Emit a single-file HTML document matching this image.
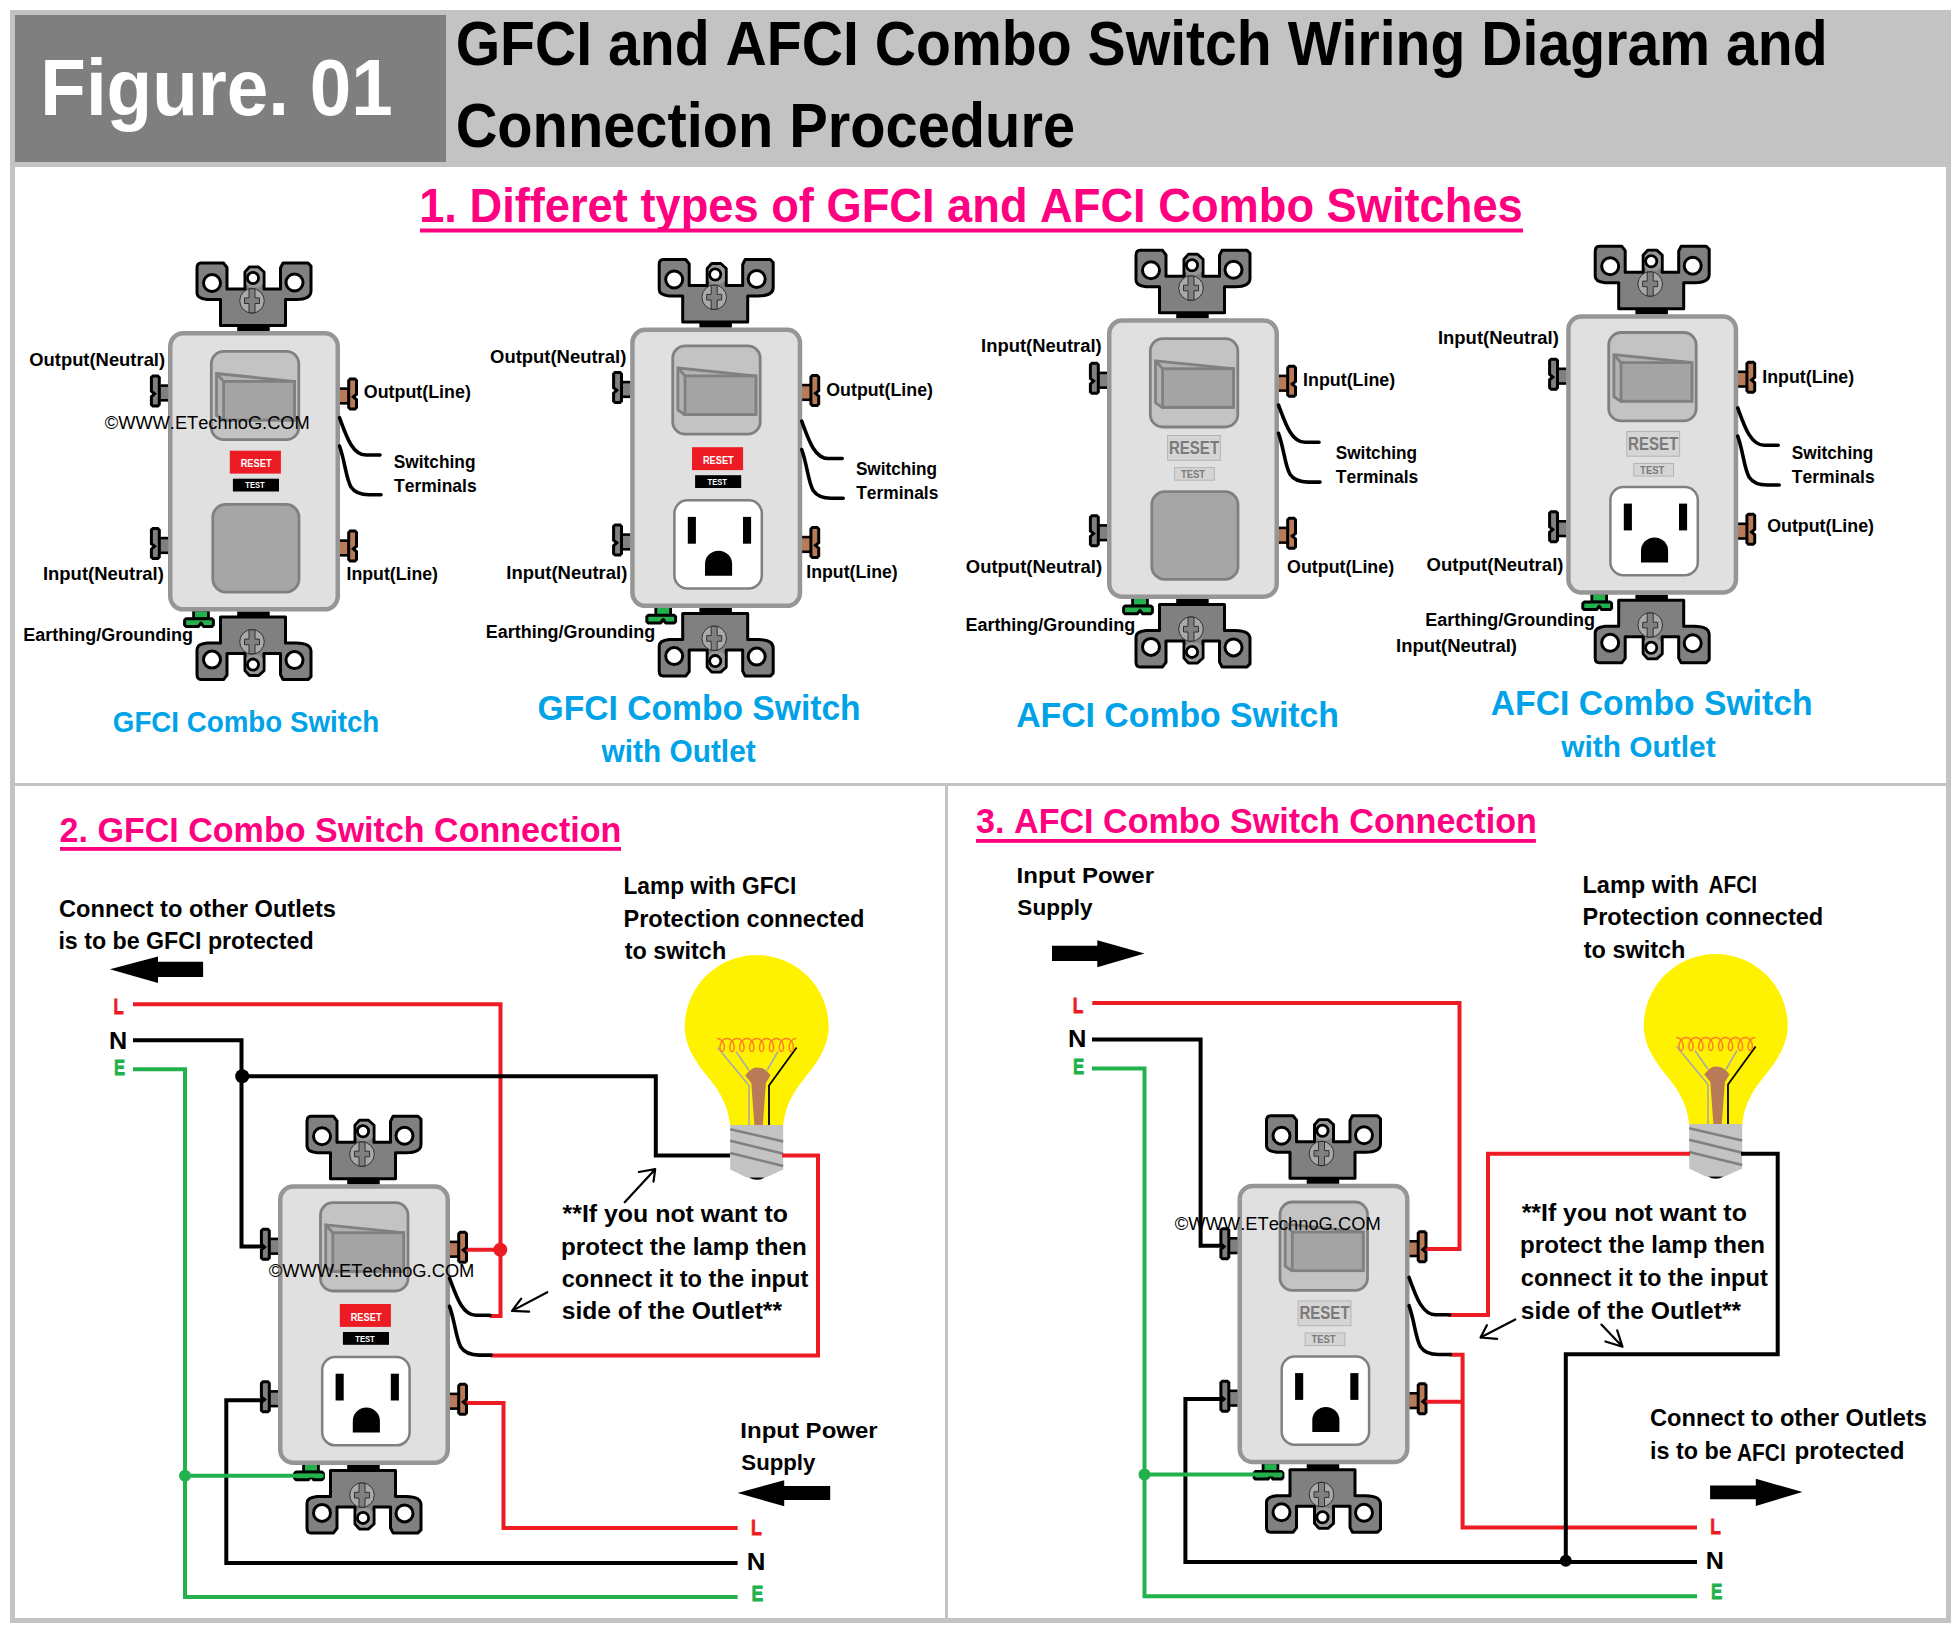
<!DOCTYPE html><html><head><meta charset="utf-8"><style>html,body{margin:0;padding:0;background:#fff;}svg{display:block;font-family:"Liberation Sans",sans-serif;font-kerning:none;}</style></head><body>
<svg width="1957" height="1629" viewBox="0 0 1957 1629">
<defs>
<g id="swRB"><g transform="translate(86,0)"><rect x="-16.8" y="-5" width="32.5" height="5.2" fill="#000"/><path d="M-57,-63 Q-57,-68 -53,-68 L-30.5,-68 L-27,-63.5 L-27,-42 L-9,-42 L-9,-59 L-4.5,-64 L4.5,-64 L10,-59 L10,-42 L26.5,-42 L26.5,-63 L29,-68 L54,-68 L57,-65 L57,-40 Q57,-31.5 42,-31.5 L31.5,-31.5 L31.5,-5.5 L-33.5,-5.5 L-33.5,-31.5 L-47,-31.5 Q-57,-32.5 -57,-38 Z" fill="#808080" stroke="#000" stroke-width="3" stroke-linejoin="round"/><path d="M-7.5,-46.5 L-7.5,-58.5 L-3.8,-62.5 L3.8,-62.5 L8.5,-58.5 L8.5,-46.5 L4.5,-43.5 L-3.5,-43.5 Z" fill="#989898" stroke="none"/><circle cx="-42" cy="-48" r="8.5" fill="#fff" stroke="#000" stroke-width="3"/><circle cx="40.5" cy="-48.5" r="8.5" fill="#fff" stroke="#000" stroke-width="3"/><circle cx="-1" cy="-53" r="5.6" fill="#fff" stroke="#000" stroke-width="2.8"/><circle cx="-2" cy="-30.2" r="12.3" fill="#a9a9a9" stroke="#303030" stroke-width="1"/><path d="M-5,-42.2 h6 v9.1 h4.5 v5.6 h-4.5 v9.3 h-6 v-9.3 h-4.5 v-5.6 h4.5 Z" fill="#808080" stroke="#303030" stroke-width="1"/></g><g transform="translate(86,280.6) scale(1,-1)"><rect x="-16.8" y="-5" width="32.5" height="5.2" fill="#000"/><path d="M-57,-63 Q-57,-68 -53,-68 L-30.5,-68 L-27,-63.5 L-27,-42 L-9,-42 L-9,-59 L-4.5,-64 L4.5,-64 L10,-59 L10,-42 L26.5,-42 L26.5,-63 L29,-68 L54,-68 L57,-65 L57,-40 Q57,-31.5 42,-31.5 L31.5,-31.5 L31.5,-5.5 L-33.5,-5.5 L-33.5,-31.5 L-47,-31.5 Q-57,-32.5 -57,-38 Z" fill="#808080" stroke="#000" stroke-width="3" stroke-linejoin="round"/><path d="M-7.5,-46.5 L-7.5,-58.5 L-3.8,-62.5 L3.8,-62.5 L8.5,-58.5 L8.5,-46.5 L4.5,-43.5 L-3.5,-43.5 Z" fill="#989898" stroke="none"/><circle cx="-42" cy="-48" r="8.5" fill="#fff" stroke="#000" stroke-width="3"/><circle cx="40.5" cy="-48.5" r="8.5" fill="#fff" stroke="#000" stroke-width="3"/><circle cx="-1" cy="-53" r="5.6" fill="#fff" stroke="#000" stroke-width="2.8"/><circle cx="-2" cy="-30.2" r="12.3" fill="#a9a9a9" stroke="#303030" stroke-width="1"/><path d="M-5,-42.2 h6 v9.1 h4.5 v5.6 h-4.5 v9.3 h-6 v-9.3 h-4.5 v-5.6 h4.5 Z" fill="#808080" stroke="#303030" stroke-width="1"/></g><rect x="-7.8" y="53.3" width="8" height="17.3" fill="#000"/><rect x="-7.8" y="55.9" width="8" height="12.1" fill="#808080"/><path d="M-15,45.0 L-10.2,45.0 L-8.7,46.5 L-8.7,73.5 L-10.2,75.0 L-15,75.0 L-16.6,73.5 L-16.6,65.6 L-13.4,62.8 L-16.6,60.2 L-16.6,46.5 Z" fill="#808080" stroke="#000" stroke-width="3" stroke-linejoin="miter" stroke-miterlimit="3"/><rect x="-7.8" y="205.8" width="8" height="17.3" fill="#000"/><rect x="-7.8" y="208.4" width="8" height="12.1" fill="#808080"/><path d="M-15,197.5 L-10.2,197.5 L-8.7,199.0 L-8.7,226.0 L-10.2,227.5 L-15,227.5 L-16.6,226.0 L-16.6,218.1 L-13.4,215.3 L-16.6,212.7 L-16.6,199.0 Z" fill="#808080" stroke="#000" stroke-width="3" stroke-linejoin="miter" stroke-miterlimit="3"/><rect x="171.8" y="56.3" width="8" height="17.3" fill="#000"/><rect x="171.8" y="58.9" width="8" height="12.1" fill="#b97a57"/><path d="M182.2,48.0 L187,48.0 L188.5,49.5 L188.5,63.2 L185.3,65.8 L188.5,68.6 L188.5,76.5 L187,78.0 L182.2,78.0 L180.7,76.5 L180.7,49.5 Z" fill="#b97a57" stroke="#000" stroke-width="3" stroke-linejoin="miter" stroke-miterlimit="3"/><rect x="171.8" y="208.3" width="8" height="17.3" fill="#000"/><rect x="171.8" y="210.9" width="8" height="12.1" fill="#b97a57"/><path d="M182.2,200.0 L187,200.0 L188.5,201.5 L188.5,215.2 L185.3,217.8 L188.5,220.6 L188.5,228.5 L187,230.0 L182.2,230.0 L180.7,228.5 L180.7,201.5 Z" fill="#b97a57" stroke="#000" stroke-width="3" stroke-linejoin="miter" stroke-miterlimit="3"/><rect x="24.2" y="280" width="17.6" height="8" fill="#000"/><rect x="27" y="280.5" width="12" height="6" fill="#22b14c"/><path d="M18,287.7 L44,287.7 L45.4,289.2 L45.4,294 L44,295.4 L35.5,295.4 L33,292 L30.5,295.4 L18,295.4 L16.6,294 L16.6,289.2 Z" fill="#22b14c" stroke="#000" stroke-width="3" stroke-linejoin="round"/><rect x="2.25" y="2.25" width="167.5" height="276.1" rx="13" fill="#e0e0e0" stroke="#969696" stroke-width="4.5"/><g><rect x="43.3" y="20.3" width="87.5" height="88.4" rx="12.5" fill="#c3c3c3" stroke="#808080" stroke-width="2.8"/><path d="M48.5,42.5 L126.5,50.4 L126.5,89 L55,89 L48.5,84.5 Z" fill="#b2b2b2" stroke="#808080" stroke-width="2.8" stroke-linejoin="miter"/><rect x="55.6" y="50.4" width="70.9" height="38.6" fill="#a4a4a4" stroke="#808080" stroke-width="2.8"/><line x1="48.5" y1="42.5" x2="55.6" y2="50.4" stroke="#808080" stroke-width="2.8"/></g><rect x="61.8" y="119.7" width="51.1" height="22.9" fill="#ed1c24"/><text transform="translate(72.68,136.30) scale(0.8395,1)" font-size="11.05" font-weight="bold" fill="#fff" >RESET</text><rect x="64.9" y="147.7" width="46.1" height="12.8" fill="#000"/><text transform="translate(77.31,157.20) scale(0.8409,1)" font-size="9.01" font-weight="bold" fill="#fff" >TEST</text><rect x="44.8" y="173.4" width="86.2" height="87.7" rx="13" fill="#a6a6a6" stroke="#808080" stroke-width="2.8"/></g>
<g id="swRO"><g transform="translate(86,0)"><rect x="-16.8" y="-5" width="32.5" height="5.2" fill="#000"/><path d="M-57,-63 Q-57,-68 -53,-68 L-30.5,-68 L-27,-63.5 L-27,-42 L-9,-42 L-9,-59 L-4.5,-64 L4.5,-64 L10,-59 L10,-42 L26.5,-42 L26.5,-63 L29,-68 L54,-68 L57,-65 L57,-40 Q57,-31.5 42,-31.5 L31.5,-31.5 L31.5,-5.5 L-33.5,-5.5 L-33.5,-31.5 L-47,-31.5 Q-57,-32.5 -57,-38 Z" fill="#808080" stroke="#000" stroke-width="3" stroke-linejoin="round"/><path d="M-7.5,-46.5 L-7.5,-58.5 L-3.8,-62.5 L3.8,-62.5 L8.5,-58.5 L8.5,-46.5 L4.5,-43.5 L-3.5,-43.5 Z" fill="#989898" stroke="none"/><circle cx="-42" cy="-48" r="8.5" fill="#fff" stroke="#000" stroke-width="3"/><circle cx="40.5" cy="-48.5" r="8.5" fill="#fff" stroke="#000" stroke-width="3"/><circle cx="-1" cy="-53" r="5.6" fill="#fff" stroke="#000" stroke-width="2.8"/><circle cx="-2" cy="-30.2" r="12.3" fill="#a9a9a9" stroke="#303030" stroke-width="1"/><path d="M-5,-42.2 h6 v9.1 h4.5 v5.6 h-4.5 v9.3 h-6 v-9.3 h-4.5 v-5.6 h4.5 Z" fill="#808080" stroke="#303030" stroke-width="1"/></g><g transform="translate(86,280.6) scale(1,-1)"><rect x="-16.8" y="-5" width="32.5" height="5.2" fill="#000"/><path d="M-57,-63 Q-57,-68 -53,-68 L-30.5,-68 L-27,-63.5 L-27,-42 L-9,-42 L-9,-59 L-4.5,-64 L4.5,-64 L10,-59 L10,-42 L26.5,-42 L26.5,-63 L29,-68 L54,-68 L57,-65 L57,-40 Q57,-31.5 42,-31.5 L31.5,-31.5 L31.5,-5.5 L-33.5,-5.5 L-33.5,-31.5 L-47,-31.5 Q-57,-32.5 -57,-38 Z" fill="#808080" stroke="#000" stroke-width="3" stroke-linejoin="round"/><path d="M-7.5,-46.5 L-7.5,-58.5 L-3.8,-62.5 L3.8,-62.5 L8.5,-58.5 L8.5,-46.5 L4.5,-43.5 L-3.5,-43.5 Z" fill="#989898" stroke="none"/><circle cx="-42" cy="-48" r="8.5" fill="#fff" stroke="#000" stroke-width="3"/><circle cx="40.5" cy="-48.5" r="8.5" fill="#fff" stroke="#000" stroke-width="3"/><circle cx="-1" cy="-53" r="5.6" fill="#fff" stroke="#000" stroke-width="2.8"/><circle cx="-2" cy="-30.2" r="12.3" fill="#a9a9a9" stroke="#303030" stroke-width="1"/><path d="M-5,-42.2 h6 v9.1 h4.5 v5.6 h-4.5 v9.3 h-6 v-9.3 h-4.5 v-5.6 h4.5 Z" fill="#808080" stroke="#303030" stroke-width="1"/></g><rect x="-7.8" y="53.3" width="8" height="17.3" fill="#000"/><rect x="-7.8" y="55.9" width="8" height="12.1" fill="#808080"/><path d="M-15,45.0 L-10.2,45.0 L-8.7,46.5 L-8.7,73.5 L-10.2,75.0 L-15,75.0 L-16.6,73.5 L-16.6,65.6 L-13.4,62.8 L-16.6,60.2 L-16.6,46.5 Z" fill="#808080" stroke="#000" stroke-width="3" stroke-linejoin="miter" stroke-miterlimit="3"/><rect x="-7.8" y="205.8" width="8" height="17.3" fill="#000"/><rect x="-7.8" y="208.4" width="8" height="12.1" fill="#808080"/><path d="M-15,197.5 L-10.2,197.5 L-8.7,199.0 L-8.7,226.0 L-10.2,227.5 L-15,227.5 L-16.6,226.0 L-16.6,218.1 L-13.4,215.3 L-16.6,212.7 L-16.6,199.0 Z" fill="#808080" stroke="#000" stroke-width="3" stroke-linejoin="miter" stroke-miterlimit="3"/><rect x="171.8" y="56.3" width="8" height="17.3" fill="#000"/><rect x="171.8" y="58.9" width="8" height="12.1" fill="#b97a57"/><path d="M182.2,48.0 L187,48.0 L188.5,49.5 L188.5,63.2 L185.3,65.8 L188.5,68.6 L188.5,76.5 L187,78.0 L182.2,78.0 L180.7,76.5 L180.7,49.5 Z" fill="#b97a57" stroke="#000" stroke-width="3" stroke-linejoin="miter" stroke-miterlimit="3"/><rect x="171.8" y="208.3" width="8" height="17.3" fill="#000"/><rect x="171.8" y="210.9" width="8" height="12.1" fill="#b97a57"/><path d="M182.2,200.0 L187,200.0 L188.5,201.5 L188.5,215.2 L185.3,217.8 L188.5,220.6 L188.5,228.5 L187,230.0 L182.2,230.0 L180.7,228.5 L180.7,201.5 Z" fill="#b97a57" stroke="#000" stroke-width="3" stroke-linejoin="miter" stroke-miterlimit="3"/><rect x="24.2" y="280" width="17.6" height="8" fill="#000"/><rect x="27" y="280.5" width="12" height="6" fill="#22b14c"/><path d="M18,287.7 L44,287.7 L45.4,289.2 L45.4,294 L44,295.4 L35.5,295.4 L33,292 L30.5,295.4 L18,295.4 L16.6,294 L16.6,289.2 Z" fill="#22b14c" stroke="#000" stroke-width="3" stroke-linejoin="round"/><rect x="2.25" y="2.25" width="167.5" height="276.1" rx="13" fill="#e0e0e0" stroke="#969696" stroke-width="4.5"/><g transform="translate(-0.8,-2)"><rect x="43.3" y="20.3" width="87.5" height="88.4" rx="12.5" fill="#c3c3c3" stroke="#808080" stroke-width="2.8"/><path d="M48.5,42.5 L126.5,50.4 L126.5,89 L55,89 L48.5,84.5 Z" fill="#b2b2b2" stroke="#808080" stroke-width="2.8" stroke-linejoin="miter"/><rect x="55.6" y="50.4" width="70.9" height="38.6" fill="#a4a4a4" stroke="#808080" stroke-width="2.8"/><line x1="48.5" y1="42.5" x2="55.6" y2="50.4" stroke="#808080" stroke-width="2.8"/></g><rect x="61.8" y="119.7" width="51.1" height="22.9" fill="#ed1c24"/><text transform="translate(72.68,136.30) scale(0.8395,1)" font-size="11.05" font-weight="bold" fill="#fff" >RESET</text><rect x="64.9" y="147.7" width="46.1" height="12.8" fill="#000"/><text transform="translate(77.31,157.20) scale(0.8409,1)" font-size="9.01" font-weight="bold" fill="#fff" >TEST</text><rect x="44.2" y="172.8" width="87.4" height="88.2" rx="13" fill="#fff" stroke="#808080" stroke-width="2.5"/><rect x="57.6" y="189.4" width="8.1" height="26.8" fill="#000"/><rect x="112.8" y="189.4" width="8.1" height="26.8" fill="#000"/><path d="M74.8,248.3 L74.8,236.5 A13.55,13.3 0 0 1 101.9,236.5 L101.9,248.3 Z" fill="#000"/></g>
<g id="swGB"><g transform="translate(86,0)"><rect x="-16.8" y="-5" width="32.5" height="5.2" fill="#000"/><path d="M-57,-63 Q-57,-68 -53,-68 L-30.5,-68 L-27,-63.5 L-27,-42 L-9,-42 L-9,-59 L-4.5,-64 L4.5,-64 L10,-59 L10,-42 L26.5,-42 L26.5,-63 L29,-68 L54,-68 L57,-65 L57,-40 Q57,-31.5 42,-31.5 L31.5,-31.5 L31.5,-5.5 L-33.5,-5.5 L-33.5,-31.5 L-47,-31.5 Q-57,-32.5 -57,-38 Z" fill="#808080" stroke="#000" stroke-width="3" stroke-linejoin="round"/><path d="M-7.5,-46.5 L-7.5,-58.5 L-3.8,-62.5 L3.8,-62.5 L8.5,-58.5 L8.5,-46.5 L4.5,-43.5 L-3.5,-43.5 Z" fill="#989898" stroke="none"/><circle cx="-42" cy="-48" r="8.5" fill="#fff" stroke="#000" stroke-width="3"/><circle cx="40.5" cy="-48.5" r="8.5" fill="#fff" stroke="#000" stroke-width="3"/><circle cx="-1" cy="-53" r="5.6" fill="#fff" stroke="#000" stroke-width="2.8"/><circle cx="-2" cy="-30.2" r="12.3" fill="#a9a9a9" stroke="#303030" stroke-width="1"/><path d="M-5,-42.2 h6 v9.1 h4.5 v5.6 h-4.5 v9.3 h-6 v-9.3 h-4.5 v-5.6 h4.5 Z" fill="#808080" stroke="#303030" stroke-width="1"/></g><g transform="translate(86,280.6) scale(1,-1)"><rect x="-16.8" y="-5" width="32.5" height="5.2" fill="#000"/><path d="M-57,-63 Q-57,-68 -53,-68 L-30.5,-68 L-27,-63.5 L-27,-42 L-9,-42 L-9,-59 L-4.5,-64 L4.5,-64 L10,-59 L10,-42 L26.5,-42 L26.5,-63 L29,-68 L54,-68 L57,-65 L57,-40 Q57,-31.5 42,-31.5 L31.5,-31.5 L31.5,-5.5 L-33.5,-5.5 L-33.5,-31.5 L-47,-31.5 Q-57,-32.5 -57,-38 Z" fill="#808080" stroke="#000" stroke-width="3" stroke-linejoin="round"/><path d="M-7.5,-46.5 L-7.5,-58.5 L-3.8,-62.5 L3.8,-62.5 L8.5,-58.5 L8.5,-46.5 L4.5,-43.5 L-3.5,-43.5 Z" fill="#989898" stroke="none"/><circle cx="-42" cy="-48" r="8.5" fill="#fff" stroke="#000" stroke-width="3"/><circle cx="40.5" cy="-48.5" r="8.5" fill="#fff" stroke="#000" stroke-width="3"/><circle cx="-1" cy="-53" r="5.6" fill="#fff" stroke="#000" stroke-width="2.8"/><circle cx="-2" cy="-30.2" r="12.3" fill="#a9a9a9" stroke="#303030" stroke-width="1"/><path d="M-5,-42.2 h6 v9.1 h4.5 v5.6 h-4.5 v9.3 h-6 v-9.3 h-4.5 v-5.6 h4.5 Z" fill="#808080" stroke="#303030" stroke-width="1"/></g><rect x="-7.8" y="53.3" width="8" height="17.3" fill="#000"/><rect x="-7.8" y="55.9" width="8" height="12.1" fill="#808080"/><path d="M-15,45.0 L-10.2,45.0 L-8.7,46.5 L-8.7,73.5 L-10.2,75.0 L-15,75.0 L-16.6,73.5 L-16.6,65.6 L-13.4,62.8 L-16.6,60.2 L-16.6,46.5 Z" fill="#808080" stroke="#000" stroke-width="3" stroke-linejoin="miter" stroke-miterlimit="3"/><rect x="-7.8" y="205.8" width="8" height="17.3" fill="#000"/><rect x="-7.8" y="208.4" width="8" height="12.1" fill="#808080"/><path d="M-15,197.5 L-10.2,197.5 L-8.7,199.0 L-8.7,226.0 L-10.2,227.5 L-15,227.5 L-16.6,226.0 L-16.6,218.1 L-13.4,215.3 L-16.6,212.7 L-16.6,199.0 Z" fill="#808080" stroke="#000" stroke-width="3" stroke-linejoin="miter" stroke-miterlimit="3"/><rect x="171.8" y="56.3" width="8" height="17.3" fill="#000"/><rect x="171.8" y="58.9" width="8" height="12.1" fill="#b97a57"/><path d="M182.2,48.0 L187,48.0 L188.5,49.5 L188.5,63.2 L185.3,65.8 L188.5,68.6 L188.5,76.5 L187,78.0 L182.2,78.0 L180.7,76.5 L180.7,49.5 Z" fill="#b97a57" stroke="#000" stroke-width="3" stroke-linejoin="miter" stroke-miterlimit="3"/><rect x="171.8" y="208.3" width="8" height="17.3" fill="#000"/><rect x="171.8" y="210.9" width="8" height="12.1" fill="#b97a57"/><path d="M182.2,200.0 L187,200.0 L188.5,201.5 L188.5,215.2 L185.3,217.8 L188.5,220.6 L188.5,228.5 L187,230.0 L182.2,230.0 L180.7,228.5 L180.7,201.5 Z" fill="#b97a57" stroke="#000" stroke-width="3" stroke-linejoin="miter" stroke-miterlimit="3"/><rect x="24.2" y="280" width="17.6" height="8" fill="#000"/><rect x="27" y="280.5" width="12" height="6" fill="#22b14c"/><path d="M18,287.7 L44,287.7 L45.4,289.2 L45.4,294 L44,295.4 L35.5,295.4 L33,292 L30.5,295.4 L18,295.4 L16.6,294 L16.6,289.2 Z" fill="#22b14c" stroke="#000" stroke-width="3" stroke-linejoin="round"/><rect x="2.25" y="2.25" width="167.5" height="276.1" rx="13" fill="#e0e0e0" stroke="#969696" stroke-width="4.5"/><g><rect x="43.3" y="20.3" width="87.5" height="88.4" rx="12.5" fill="#c3c3c3" stroke="#808080" stroke-width="2.8"/><path d="M48.5,42.5 L126.5,50.4 L126.5,89 L55,89 L48.5,84.5 Z" fill="#b2b2b2" stroke="#808080" stroke-width="2.8" stroke-linejoin="miter"/><rect x="55.6" y="50.4" width="70.9" height="38.6" fill="#a4a4a4" stroke="#808080" stroke-width="2.8"/><line x1="48.5" y1="42.5" x2="55.6" y2="50.4" stroke="#808080" stroke-width="2.8"/></g><rect x="60.6" y="117.2" width="52.8" height="24.8" fill="#d5d5d5" stroke="#b4b4b4" stroke-width="1"/><text transform="translate(61.89,135.50) scale(0.8104,1)" font-size="18.60" font-weight="bold" fill="#7a7a7a" >RESET</text><rect x="67.6" y="149.3" width="39.7" height="12.6" fill="#d5d5d5" stroke="#b4b4b4" stroke-width="1"/><text transform="translate(73.89,159.70) scale(0.8180,1)" font-size="11.63" font-weight="bold" fill="#7a7a7a" >TEST</text><rect x="44.8" y="173.4" width="86.2" height="87.7" rx="13" fill="#a6a6a6" stroke="#808080" stroke-width="2.8"/></g>
<g id="swGO"><g transform="translate(86,0)"><rect x="-16.8" y="-5" width="32.5" height="5.2" fill="#000"/><path d="M-57,-63 Q-57,-68 -53,-68 L-30.5,-68 L-27,-63.5 L-27,-42 L-9,-42 L-9,-59 L-4.5,-64 L4.5,-64 L10,-59 L10,-42 L26.5,-42 L26.5,-63 L29,-68 L54,-68 L57,-65 L57,-40 Q57,-31.5 42,-31.5 L31.5,-31.5 L31.5,-5.5 L-33.5,-5.5 L-33.5,-31.5 L-47,-31.5 Q-57,-32.5 -57,-38 Z" fill="#808080" stroke="#000" stroke-width="3" stroke-linejoin="round"/><path d="M-7.5,-46.5 L-7.5,-58.5 L-3.8,-62.5 L3.8,-62.5 L8.5,-58.5 L8.5,-46.5 L4.5,-43.5 L-3.5,-43.5 Z" fill="#989898" stroke="none"/><circle cx="-42" cy="-48" r="8.5" fill="#fff" stroke="#000" stroke-width="3"/><circle cx="40.5" cy="-48.5" r="8.5" fill="#fff" stroke="#000" stroke-width="3"/><circle cx="-1" cy="-53" r="5.6" fill="#fff" stroke="#000" stroke-width="2.8"/><circle cx="-2" cy="-30.2" r="12.3" fill="#a9a9a9" stroke="#303030" stroke-width="1"/><path d="M-5,-42.2 h6 v9.1 h4.5 v5.6 h-4.5 v9.3 h-6 v-9.3 h-4.5 v-5.6 h4.5 Z" fill="#808080" stroke="#303030" stroke-width="1"/></g><g transform="translate(86,280.6) scale(1,-1)"><rect x="-16.8" y="-5" width="32.5" height="5.2" fill="#000"/><path d="M-57,-63 Q-57,-68 -53,-68 L-30.5,-68 L-27,-63.5 L-27,-42 L-9,-42 L-9,-59 L-4.5,-64 L4.5,-64 L10,-59 L10,-42 L26.5,-42 L26.5,-63 L29,-68 L54,-68 L57,-65 L57,-40 Q57,-31.5 42,-31.5 L31.5,-31.5 L31.5,-5.5 L-33.5,-5.5 L-33.5,-31.5 L-47,-31.5 Q-57,-32.5 -57,-38 Z" fill="#808080" stroke="#000" stroke-width="3" stroke-linejoin="round"/><path d="M-7.5,-46.5 L-7.5,-58.5 L-3.8,-62.5 L3.8,-62.5 L8.5,-58.5 L8.5,-46.5 L4.5,-43.5 L-3.5,-43.5 Z" fill="#989898" stroke="none"/><circle cx="-42" cy="-48" r="8.5" fill="#fff" stroke="#000" stroke-width="3"/><circle cx="40.5" cy="-48.5" r="8.5" fill="#fff" stroke="#000" stroke-width="3"/><circle cx="-1" cy="-53" r="5.6" fill="#fff" stroke="#000" stroke-width="2.8"/><circle cx="-2" cy="-30.2" r="12.3" fill="#a9a9a9" stroke="#303030" stroke-width="1"/><path d="M-5,-42.2 h6 v9.1 h4.5 v5.6 h-4.5 v9.3 h-6 v-9.3 h-4.5 v-5.6 h4.5 Z" fill="#808080" stroke="#303030" stroke-width="1"/></g><rect x="-7.8" y="53.3" width="8" height="17.3" fill="#000"/><rect x="-7.8" y="55.9" width="8" height="12.1" fill="#808080"/><path d="M-15,45.0 L-10.2,45.0 L-8.7,46.5 L-8.7,73.5 L-10.2,75.0 L-15,75.0 L-16.6,73.5 L-16.6,65.6 L-13.4,62.8 L-16.6,60.2 L-16.6,46.5 Z" fill="#808080" stroke="#000" stroke-width="3" stroke-linejoin="miter" stroke-miterlimit="3"/><rect x="-7.8" y="205.8" width="8" height="17.3" fill="#000"/><rect x="-7.8" y="208.4" width="8" height="12.1" fill="#808080"/><path d="M-15,197.5 L-10.2,197.5 L-8.7,199.0 L-8.7,226.0 L-10.2,227.5 L-15,227.5 L-16.6,226.0 L-16.6,218.1 L-13.4,215.3 L-16.6,212.7 L-16.6,199.0 Z" fill="#808080" stroke="#000" stroke-width="3" stroke-linejoin="miter" stroke-miterlimit="3"/><rect x="171.8" y="56.3" width="8" height="17.3" fill="#000"/><rect x="171.8" y="58.9" width="8" height="12.1" fill="#b97a57"/><path d="M182.2,48.0 L187,48.0 L188.5,49.5 L188.5,63.2 L185.3,65.8 L188.5,68.6 L188.5,76.5 L187,78.0 L182.2,78.0 L180.7,76.5 L180.7,49.5 Z" fill="#b97a57" stroke="#000" stroke-width="3" stroke-linejoin="miter" stroke-miterlimit="3"/><rect x="171.8" y="208.3" width="8" height="17.3" fill="#000"/><rect x="171.8" y="210.9" width="8" height="12.1" fill="#b97a57"/><path d="M182.2,200.0 L187,200.0 L188.5,201.5 L188.5,215.2 L185.3,217.8 L188.5,220.6 L188.5,228.5 L187,230.0 L182.2,230.0 L180.7,228.5 L180.7,201.5 Z" fill="#b97a57" stroke="#000" stroke-width="3" stroke-linejoin="miter" stroke-miterlimit="3"/><rect x="24.2" y="280" width="17.6" height="8" fill="#000"/><rect x="27" y="280.5" width="12" height="6" fill="#22b14c"/><path d="M18,287.7 L44,287.7 L45.4,289.2 L45.4,294 L44,295.4 L35.5,295.4 L33,292 L30.5,295.4 L18,295.4 L16.6,294 L16.6,289.2 Z" fill="#22b14c" stroke="#000" stroke-width="3" stroke-linejoin="round"/><rect x="2.25" y="2.25" width="167.5" height="276.1" rx="13" fill="#e0e0e0" stroke="#969696" stroke-width="4.5"/><g transform="translate(-0.8,-2)"><rect x="43.3" y="20.3" width="87.5" height="88.4" rx="12.5" fill="#c3c3c3" stroke="#808080" stroke-width="2.8"/><path d="M48.5,42.5 L126.5,50.4 L126.5,89 L55,89 L48.5,84.5 Z" fill="#b2b2b2" stroke="#808080" stroke-width="2.8" stroke-linejoin="miter"/><rect x="55.6" y="50.4" width="70.9" height="38.6" fill="#a4a4a4" stroke="#808080" stroke-width="2.8"/><line x1="48.5" y1="42.5" x2="55.6" y2="50.4" stroke="#808080" stroke-width="2.8"/></g><rect x="60.6" y="117.2" width="52.8" height="24.8" fill="#d5d5d5" stroke="#b4b4b4" stroke-width="1"/><text transform="translate(61.89,135.50) scale(0.8104,1)" font-size="18.60" font-weight="bold" fill="#7a7a7a" >RESET</text><rect x="67.6" y="149.3" width="39.7" height="12.6" fill="#d5d5d5" stroke="#b4b4b4" stroke-width="1"/><text transform="translate(73.89,159.70) scale(0.8180,1)" font-size="11.63" font-weight="bold" fill="#7a7a7a" >TEST</text><rect x="44.2" y="172.8" width="87.4" height="88.2" rx="13" fill="#fff" stroke="#808080" stroke-width="2.5"/><rect x="57.6" y="189.4" width="8.1" height="26.8" fill="#000"/><rect x="112.8" y="189.4" width="8.1" height="26.8" fill="#000"/><path d="M74.8,248.3 L74.8,236.5 A13.55,13.3 0 0 1 101.9,236.5 L101.9,248.3 Z" fill="#000"/></g>
<g id="bulb"><path d="M-26.5,98 C-29,78 -36,66 -48,51 C-56,41 -72,22 -72,0 A72,72 0 1 1 72,0 C72,22 56,41 48,51 C36,66 29,78 26.5,98 Z" fill="#fff200"/><polyline points="-39.1,20.5 -7.7,58.5 -7.7,98" fill="none" stroke="#aaaaaa" stroke-width="1.6"/><polyline points="-20.7,24.5 -7.7,43.5" fill="none" stroke="#aaaaaa" stroke-width="1.6"/><polyline points="21.3,24.5 10.3,43.5" fill="none" stroke="#aaaaaa" stroke-width="1.6"/><polyline points="39.9,20.5 12.3,58.5 12.3,98" fill="none" stroke="#000" stroke-width="1.8"/><path d="M-11.5,48.5 Q-4,39 1,40.8 Q8,40 13.8,48.5 L9.2,56 L6.1,98 L-2.3,98 L-5.4,56 Z" fill="#b97a57"/><polyline points="-39.50,11.50 -38.76,11.55 -38.04,11.70 -37.32,11.96 -36.64,12.30 -35.99,12.74 -35.37,13.26 -34.80,13.86 -34.29,14.52 -33.83,15.23 -33.44,15.99 -33.10,16.78 -32.84,17.59 -32.64,18.41 -32.51,19.22 -32.45,20.01 -32.45,20.77 -32.51,21.48 -32.63,22.14 -32.80,22.74 -33.02,23.26 -33.28,23.70 -33.57,24.04 -33.89,24.30 -34.22,24.45 -34.56,24.50 -34.90,24.45 -35.24,24.30 -35.55,24.04 -35.84,23.70 -36.10,23.26 -36.32,22.74 -36.49,22.14 -36.61,21.48 -36.68,20.77 -36.68,20.01 -36.61,19.22 -36.48,18.41 -36.29,17.59 -36.02,16.78 -35.69,15.99 -35.29,15.23 -34.84,14.52 -34.32,13.86 -33.75,13.26 -33.14,12.74 -32.49,12.30 -31.80,11.96 -31.09,11.70 -30.36,11.55 -29.62,11.50 -28.89,11.55 -28.16,11.70 -27.45,11.96 -26.76,12.30 -26.11,12.74 -25.50,13.26 -24.93,13.86 -24.41,14.52 -23.96,15.23 -23.56,15.99 -23.23,16.78 -22.96,17.59 -22.77,18.41 -22.64,19.22 -22.57,20.01 -22.57,20.77 -22.64,21.48 -22.76,22.14 -22.93,22.74 -23.15,23.26 -23.41,23.70 -23.70,24.04 -24.01,24.30 -24.35,24.45 -24.69,24.50 -25.03,24.45 -25.36,24.30 -25.68,24.04 -25.97,23.70 -26.23,23.26 -26.45,22.74 -26.62,22.14 -26.74,21.48 -26.80,20.77 -26.80,20.01 -26.74,19.22 -26.61,18.41 -26.41,17.59 -26.15,16.78 -25.81,15.99 -25.42,15.23 -24.96,14.52 -24.45,13.86 -23.88,13.26 -23.26,12.74 -22.61,12.30 -21.93,11.96 -21.21,11.70 -20.49,11.55 -19.75,11.50 -19.01,11.55 -18.29,11.70 -17.57,11.96 -16.89,12.30 -16.24,12.74 -15.62,13.26 -15.05,13.86 -14.54,14.52 -14.08,15.23 -13.69,15.99 -13.35,16.78 -13.09,17.59 -12.89,18.41 -12.76,19.22 -12.70,20.01 -12.70,20.77 -12.76,21.48 -12.88,22.14 -13.05,22.74 -13.27,23.26 -13.53,23.70 -13.82,24.04 -14.14,24.30 -14.47,24.45 -14.81,24.50 -15.15,24.45 -15.49,24.30 -15.80,24.04 -16.09,23.70 -16.35,23.26 -16.57,22.74 -16.74,22.14 -16.86,21.48 -16.93,20.77 -16.93,20.01 -16.86,19.22 -16.73,18.41 -16.54,17.59 -16.27,16.78 -15.94,15.99 -15.54,15.23 -15.09,14.52 -14.57,13.86 -14.00,13.26 -13.39,12.74 -12.74,12.30 -12.05,11.96 -11.34,11.70 -10.61,11.55 -9.88,11.50 -9.14,11.55 -8.41,11.70 -7.70,11.96 -7.01,12.30 -6.36,12.74 -5.75,13.26 -5.18,13.86 -4.66,14.52 -4.21,15.23 -3.81,15.99 -3.48,16.78 -3.21,17.59 -3.02,18.41 -2.89,19.22 -2.82,20.01 -2.82,20.77 -2.89,21.48 -3.01,22.14 -3.18,22.74 -3.40,23.26 -3.66,23.70 -3.95,24.04 -4.26,24.30 -4.60,24.45 -4.94,24.50 -5.28,24.45 -5.61,24.30 -5.93,24.04 -6.22,23.70 -6.48,23.26 -6.70,22.74 -6.87,22.14 -6.99,21.48 -7.05,20.77 -7.05,20.01 -6.99,19.22 -6.86,18.41 -6.66,17.59 -6.40,16.78 -6.06,15.99 -5.67,15.23 -5.21,14.52 -4.70,13.86 -4.13,13.26 -3.51,12.74 -2.86,12.30 -2.18,11.96 -1.46,11.70 -0.74,11.55 -0.00,11.50 0.74,11.55 1.46,11.70 2.18,11.96 2.86,12.30 3.51,12.74 4.13,13.26 4.70,13.86 5.21,14.52 5.67,15.23 6.06,15.99 6.40,16.78 6.66,17.59 6.86,18.41 6.99,19.22 7.05,20.01 7.05,20.77 6.99,21.48 6.87,22.14 6.70,22.74 6.48,23.26 6.22,23.70 5.93,24.04 5.61,24.30 5.28,24.45 4.94,24.50 4.60,24.45 4.26,24.30 3.95,24.04 3.66,23.70 3.40,23.26 3.18,22.74 3.01,22.14 2.89,21.48 2.82,20.77 2.82,20.01 2.89,19.22 3.02,18.41 3.21,17.59 3.48,16.78 3.81,15.99 4.21,15.23 4.66,14.52 5.18,13.86 5.75,13.26 6.36,12.74 7.01,12.30 7.70,11.96 8.41,11.70 9.14,11.55 9.87,11.50 10.61,11.55 11.34,11.70 12.05,11.96 12.74,12.30 13.39,12.74 14.00,13.26 14.57,13.86 15.09,14.52 15.54,15.23 15.94,15.99 16.27,16.78 16.54,17.59 16.73,18.41 16.86,19.22 16.93,20.01 16.93,20.77 16.86,21.48 16.74,22.14 16.57,22.74 16.35,23.26 16.09,23.70 15.80,24.04 15.49,24.30 15.15,24.45 14.81,24.50 14.47,24.45 14.14,24.30 13.82,24.04 13.53,23.70 13.27,23.26 13.05,22.74 12.88,22.14 12.76,21.48 12.70,20.77 12.70,20.01 12.76,19.22 12.89,18.41 13.09,17.59 13.35,16.78 13.69,15.99 14.08,15.23 14.54,14.52 15.05,13.86 15.62,13.26 16.24,12.74 16.89,12.30 17.57,11.96 18.29,11.70 19.01,11.55 19.75,11.50 20.49,11.55 21.21,11.70 21.93,11.96 22.61,12.30 23.26,12.74 23.88,13.26 24.45,13.86 24.96,14.52 25.42,15.23 25.81,15.99 26.15,16.78 26.41,17.59 26.61,18.41 26.74,19.22 26.80,20.01 26.80,20.77 26.74,21.48 26.62,22.14 26.45,22.74 26.23,23.26 25.97,23.70 25.68,24.04 25.36,24.30 25.03,24.45 24.69,24.50 24.35,24.45 24.01,24.30 23.70,24.04 23.41,23.70 23.15,23.26 22.93,22.74 22.76,22.14 22.64,21.48 22.57,20.77 22.57,20.01 22.64,19.22 22.77,18.41 22.96,17.59 23.23,16.78 23.56,15.99 23.96,15.23 24.41,14.52 24.93,13.86 25.50,13.26 26.11,12.74 26.76,12.30 27.45,11.96 28.16,11.70 28.89,11.55 29.62,11.50 30.36,11.55 31.09,11.70 31.80,11.96 32.49,12.30 33.14,12.74 33.75,13.26 34.32,13.86 34.84,14.52 35.29,15.23 35.69,15.99 36.02,16.78 36.29,17.59 36.48,18.41 36.61,19.22 36.68,20.01 36.68,20.77 36.61,21.48 36.49,22.14 36.32,22.74 36.10,23.26 35.84,23.70 35.55,24.04 35.24,24.30 34.90,24.45 34.56,24.50 34.22,24.45 33.89,24.30 33.57,24.04 33.28,23.70 33.02,23.26 32.80,22.74 32.63,22.14 32.51,21.48 32.45,20.77 32.45,20.01 32.51,19.22 32.64,18.41 32.84,17.59 33.10,16.78 33.44,15.99 33.83,15.23 34.29,14.52 34.80,13.86 35.37,13.26 35.99,12.74 36.64,12.30 37.32,11.96 38.04,11.70 38.76,11.55 39.50,11.50" fill="none" stroke="#ff7f27" stroke-width="1.5"/><path d="M-26.5,98 L26.5,98 L26.5,142.5 L9,150.5 L-10,150.5 L-26.5,142.5 Z" fill="#c3c3c3"/><path d="M-26.5,102.2 L26.5,114.5 M-26.5,113.7 L26.5,126.8 M-26.5,126 L26.5,139" stroke="#808080" stroke-width="2.5"/><path d="M-8,150.5 Q0,155 8,150.5 Z" fill="#000"/></g>
</defs>
<rect x="0" y="0" width="1957" height="1629" fill="#fff"/>
<rect x="10" y="10" width="1941" height="1613" fill="#c3c3c3"/>
<rect x="15" y="167" width="1931" height="1451" fill="#fff"/>
<rect x="15" y="783" width="1931" height="3" fill="#c3c3c3"/>
<rect x="945" y="786" width="3" height="832" fill="#c3c3c3"/>
<rect x="15" y="15" width="431" height="147" fill="#7f7f7f"/>
<text transform="translate(40.31,114.60) scale(0.9405,1)" font-size="79.36" font-weight="bold" fill="#fff">Figure. 01</text>
<text transform="translate(455.66,65.00) scale(0.9042,1)" font-size="63.23" font-weight="bold" fill="#000">GFCI and AFCI Combo Switch Wiring Diagram and</text>
<text transform="translate(455.63,146.70) scale(0.9137,1)" font-size="63.23" font-weight="bold" fill="#000">Connection Procedure</text>
<text transform="translate(419.15,221.50) scale(0.9579,1)" font-size="47.24" font-weight="bold" fill="#ff0080">1. Differet types of GFCI and AFCI Combo Switches</text>
<rect x="420" y="228.5" width="1103" height="4" fill="#ff0080"/>
<use href="#swRB" x="168" y="331"/>
<path d="M339.5,417.7 C346,435 352,455 366,455 L380,455" fill="none" stroke="#000" stroke-width="3.6" stroke-linecap="round"/>
<path d="M339.5,446 C345,461 346,479 351,487 C355,493 362,494.8 369,494.8 L381,494.8" fill="none" stroke="#000" stroke-width="3.6" stroke-linecap="round"/>
<use href="#swRO" x="630.2" y="327.5"/>
<path d="M801.7,421.2 C808.2,438.5 814.2,458.5 828.2,458.5 L842.2,458.5" fill="none" stroke="#000" stroke-width="3.6" stroke-linecap="round"/>
<path d="M801.7,449.5 C807.2,464.5 808.2,482.5 813.2,490.5 C817.2,496.5 824.2,498.3 831.2,498.3 L843.2,498.3" fill="none" stroke="#000" stroke-width="3.6" stroke-linecap="round"/>
<use href="#swGB" x="1107" y="318.3"/>
<path d="M1278.5,405.0 C1285,422.3 1291,442.3 1305,442.3 L1319,442.3" fill="none" stroke="#000" stroke-width="3.6" stroke-linecap="round"/>
<path d="M1278.5,433.3 C1284,448.3 1285,466.3 1290,474.3 C1294,480.3 1301,482.1 1308,482.1 L1320,482.1" fill="none" stroke="#000" stroke-width="3.6" stroke-linecap="round"/>
<use href="#swGO" x="1566.2" y="314.2"/>
<path d="M1737.7,407.9 C1744.2,425.2 1750.2,445.2 1764.2,445.2 L1778.2,445.2" fill="none" stroke="#000" stroke-width="3.6" stroke-linecap="round"/>
<path d="M1737.7,436.2 C1743.2,451.2 1744.2,469.2 1749.2,477.2 C1753.2,483.2 1760.2,485.0 1767.2,485.0 L1779.2,485.0" fill="none" stroke="#000" stroke-width="3.6" stroke-linecap="round"/>
<text transform="translate(29.25,365.60) scale(1.0295,1)" font-size="17.88" font-weight="bold" fill="#000">Output(Neutral)</text>
<text transform="translate(363.77,397.50) scale(0.9990,1)" font-size="17.88" font-weight="bold" fill="#000">Output(Line)</text>
<text transform="translate(104.72,429.20) scale(1.0135,1)" font-size="18.02" font-weight="normal" fill="#000">©WWW.ETechnoG.COM</text>
<text transform="translate(393.80,467.80) scale(0.9684,1)" font-size="17.88" font-weight="bold" fill="#000">Switching</text>
<text transform="translate(394.10,491.80) scale(0.9782,1)" font-size="17.88" font-weight="bold" fill="#000">Terminals</text>
<text transform="translate(42.96,580.10) scale(1.0330,1)" font-size="17.88" font-weight="bold" fill="#000">Input(Neutral)</text>
<text transform="translate(346.62,579.60) scale(0.9894,1)" font-size="17.88" font-weight="bold" fill="#000">Input(Line)</text>
<text transform="translate(23.30,640.70) scale(1.0064,1)" font-size="17.88" font-weight="bold" fill="#000">Earthing/Grounding</text>
<text transform="translate(112.86,732.20) scale(0.9686,1)" font-size="28.63" font-weight="bold" fill="#00a2e8">GFCI Combo Switch</text>
<text transform="translate(490.04,363.40) scale(1.0325,1)" font-size="17.88" font-weight="bold" fill="#000">Output(Neutral)</text>
<text transform="translate(826.27,396.00) scale(0.9952,1)" font-size="17.88" font-weight="bold" fill="#000">Output(Line)</text>
<text transform="translate(855.90,474.50) scale(0.9624,1)" font-size="17.88" font-weight="bold" fill="#000">Switching</text>
<text transform="translate(856.20,499.00) scale(0.9734,1)" font-size="17.88" font-weight="bold" fill="#000">Terminals</text>
<text transform="translate(506.36,578.80) scale(1.0330,1)" font-size="17.88" font-weight="bold" fill="#000">Input(Neutral)</text>
<text transform="translate(806.32,578.00) scale(0.9905,1)" font-size="17.88" font-weight="bold" fill="#000">Input(Line)</text>
<text transform="translate(485.80,638.20) scale(1.0034,1)" font-size="17.88" font-weight="bold" fill="#000">Earthing/Grounding</text>
<text transform="translate(537.52,719.50) scale(0.9559,1)" font-size="35.18" font-weight="bold" fill="#00a2e8">GFCI Combo Switch</text>
<text transform="translate(601.49,761.60) scale(0.9646,1)" font-size="30.96" font-weight="bold" fill="#00a2e8">with Outlet</text>
<text transform="translate(981.07,351.90) scale(1.0304,1)" font-size="17.88" font-weight="bold" fill="#000">Input(Neutral)</text>
<text transform="translate(1303.11,385.50) scale(0.9972,1)" font-size="17.88" font-weight="bold" fill="#000">Input(Line)</text>
<text transform="translate(1335.70,458.80) scale(0.9648,1)" font-size="17.88" font-weight="bold" fill="#000">Switching</text>
<text transform="translate(1335.80,482.50) scale(0.9770,1)" font-size="17.88" font-weight="bold" fill="#000">Terminals</text>
<text transform="translate(965.84,572.80) scale(1.0325,1)" font-size="17.88" font-weight="bold" fill="#000">Output(Neutral)</text>
<text transform="translate(1287.07,572.80) scale(0.9990,1)" font-size="17.88" font-weight="bold" fill="#000">Output(Line)</text>
<text transform="translate(965.40,630.80) scale(1.0058,1)" font-size="17.88" font-weight="bold" fill="#000">Earthing/Grounding</text>
<text transform="translate(1016.16,726.90) scale(0.9688,1)" font-size="34.88" font-weight="bold" fill="#00a2e8">AFCI Combo Switch</text>
<text transform="translate(1437.96,344.30) scale(1.0330,1)" font-size="17.88" font-weight="bold" fill="#000">Input(Neutral)</text>
<text transform="translate(1762.31,382.60) scale(0.9950,1)" font-size="17.88" font-weight="bold" fill="#000">Input(Line)</text>
<text transform="translate(1791.70,459.20) scale(0.9672,1)" font-size="17.88" font-weight="bold" fill="#000">Switching</text>
<text transform="translate(1791.80,482.80) scale(0.9817,1)" font-size="17.88" font-weight="bold" fill="#000">Terminals</text>
<text transform="translate(1767.17,532.20) scale(0.9971,1)" font-size="17.88" font-weight="bold" fill="#000">Output(Line)</text>
<text transform="translate(1426.54,570.50) scale(1.0371,1)" font-size="17.88" font-weight="bold" fill="#000">Output(Neutral)</text>
<text transform="translate(1425.30,626.30) scale(1.0064,1)" font-size="17.88" font-weight="bold" fill="#000">Earthing/Grounding</text>
<text transform="translate(1396.07,652.00) scale(1.0313,1)" font-size="17.88" font-weight="bold" fill="#000">Input(Neutral)</text>
<text transform="translate(1490.76,715.30) scale(0.9695,1)" font-size="34.74" font-weight="bold" fill="#00a2e8">AFCI Combo Switch</text>
<text transform="translate(1561.29,756.50) scale(1.0286,1)" font-size="29.07" font-weight="bold" fill="#00a2e8">with Outlet</text>
<text transform="translate(59.62,841.50) scale(0.9563,1)" font-size="35.61" font-weight="bold" fill="#ff0080">2. GFCI Combo Switch Connection</text>
<rect x="60" y="847" width="561" height="3.8" fill="#ff0080"/>
<text transform="translate(59.03,916.60) scale(1.0159,1)" font-size="23.26" font-weight="bold" fill="#000">Connect to other Outlets</text>
<text transform="translate(58.38,949.30) scale(0.9981,1)" font-size="23.26" font-weight="bold" fill="#000">is to be GFCI protected</text>
<text transform="translate(623.48,894.00) scale(0.9196,1)" font-size="24.71" font-weight="bold" fill="#000">Lamp with GFCI</text>
<text transform="translate(623.42,926.50) scale(0.9545,1)" font-size="24.71" font-weight="bold" fill="#000">Protection connected</text>
<text transform="translate(624.71,959.20) scale(0.9483,1)" font-size="24.71" font-weight="bold" fill="#000">to switch</text>
<text transform="translate(113.58,1014.40) scale(0.7391,1)" font-size="22.67" font-weight="bold" fill="#ed1c24" stroke="#ed1c24" stroke-width="0.8">L</text>
<text transform="translate(109.02,1048.60) scale(1.0561,1)" font-size="23.84" font-weight="bold" fill="#000">N</text>
<text transform="translate(113.99,1075.10) scale(0.7311,1)" font-size="22.67" font-weight="bold" fill="#22b14c" stroke="#22b14c" stroke-width="0.8">E</text>
<use href="#bulb" x="756.7" y="1027"/>
<use href="#bulb" x="1715.7" y="1026"/>
<path d="M133,1004.3 H500.5 V1249.8" fill="none" stroke="#ed1c24" stroke-width="4" stroke-linejoin="miter" stroke-linecap="butt"/>
<path d="M462,1249.8 H500.5" fill="none" stroke="#ed1c24" stroke-width="4" stroke-linejoin="miter" stroke-linecap="butt"/>
<path d="M489.4,1316 H500.5 V1249.8" fill="none" stroke="#ed1c24" stroke-width="4" stroke-linejoin="miter" stroke-linecap="butt"/>
<path d="M490.5,1355.4 H818 V1155.6 H782" fill="none" stroke="#ed1c24" stroke-width="4" stroke-linejoin="miter" stroke-linecap="butt"/>
<path d="M462,1403 H503.5 V1528 H737.6" fill="none" stroke="#ed1c24" stroke-width="4" stroke-linejoin="miter" stroke-linecap="butt"/>
<circle cx="500.3" cy="1249.8" r="7" fill="#ed1c24"/>
<path d="M133,1040.3 H241.5 V1246.6 H264" fill="none" stroke="#000" stroke-width="4" stroke-linejoin="miter" stroke-linecap="butt"/>
<path d="M242,1076.2 H655.8 V1155.6 H730" fill="none" stroke="#000" stroke-width="4" stroke-linejoin="miter" stroke-linecap="butt"/>
<circle cx="242.2" cy="1076.2" r="7" fill="#000"/>
<path d="M264,1400.2 H226.3 V1563 H737.6" fill="none" stroke="#000" stroke-width="4" stroke-linejoin="miter" stroke-linecap="butt"/>
<path d="M133,1069.3 H185 V1597 H737.6" fill="none" stroke="#22b14c" stroke-width="4" stroke-linejoin="miter" stroke-linecap="butt"/>
<circle cx="185" cy="1475.8" r="6" fill="#22b14c"/>
<use href="#swRO" x="278" y="1184.3"/>
<path d="M449.5,1278.0 C456,1295.3 462,1315.3 476,1315.3 L490,1315.3" fill="none" stroke="#000" stroke-width="3.6" stroke-linecap="round"/>
<path d="M449.5,1306.3 C455,1321.3 456,1339.3 461,1347.3 C465,1353.3 472,1355.1 479,1355.1 L491,1355.1" fill="none" stroke="#000" stroke-width="3.6" stroke-linecap="round"/>
<path d="M185,1475.8 H323.6" fill="none" stroke="#22b14c" stroke-width="4" stroke-linejoin="miter" stroke-linecap="butt"/>
<text transform="translate(268.72,1277.00) scale(1.0160,1)" font-size="18.02" font-weight="normal" fill="#000">©WWW.ETechnoG.COM</text>
<text transform="translate(562.53,1222.00) scale(1.0076,1)" font-size="24.71" font-weight="bold" fill="#000">**If you not want to</text>
<text transform="translate(561.01,1254.50) scale(0.9787,1)" font-size="24.71" font-weight="bold" fill="#000">protect the lamp then</text>
<text transform="translate(561.68,1287.00) scale(0.9564,1)" font-size="24.71" font-weight="bold" fill="#000">connect it to the input</text>
<text transform="translate(561.73,1319.40) scale(0.9975,1)" font-size="24.71" font-weight="bold" fill="#000">side of the Outlet**</text>
<text transform="translate(740.29,1438.00) scale(1.0595,1)" font-size="22.67" font-weight="bold" fill="#000">Input Power</text>
<text transform="translate(741.36,1470.40) scale(0.9798,1)" font-size="22.67" font-weight="bold" fill="#000">Supply</text>
<text transform="translate(750.91,1535.00) scale(0.7820,1)" font-size="22.67" font-weight="bold" fill="#ed1c24" stroke="#ed1c24" stroke-width="0.8">L</text>
<text transform="translate(746.67,1570.10) scale(1.0846,1)" font-size="23.84" font-weight="bold" fill="#000">N</text>
<text transform="translate(751.52,1601.30) scale(0.7782,1)" font-size="22.67" font-weight="bold" fill="#22b14c" stroke="#22b14c" stroke-width="0.8">E</text>
<polygon points="109.9,969.3 158,956.5 158,961.7 203.1,961.7 203.1,977 158,977 158,983" fill="#000"/>
<polygon points="737.6,1493 784.2,1480.3 784.2,1486 830.2,1486 830.2,1500 784.2,1500 784.2,1506.3" fill="#000"/>
<path d="M624.7,1202.2 L655.2,1169.2 M638.8,1172 L655.2,1169.2 L653.5,1181.6" fill="none" stroke="#000" stroke-width="2.2" stroke-linecap="round" stroke-linejoin="round"/>
<path d="M547.3,1292.2 L512,1310.9 M521.2,1298.6 L512,1310.9 L529.1,1311.6" fill="none" stroke="#000" stroke-width="2.2" stroke-linecap="round" stroke-linejoin="round"/>
<text transform="translate(976.12,832.90) scale(0.9576,1)" font-size="35.61" font-weight="bold" fill="#ff0080">3. AFCI Combo Switch Connection</text>
<rect x="976" y="839" width="559.9" height="3.8" fill="#ff0080"/>
<text transform="translate(1016.59,882.60) scale(1.0595,1)" font-size="22.67" font-weight="bold" fill="#000">Input Power</text>
<text transform="translate(1017.35,915.00) scale(0.9945,1)" font-size="22.67" font-weight="bold" fill="#000">Supply</text>
<text transform="translate(1582.42,892.90) scale(0.9530,1)" font-size="24.71" font-weight="bold" fill="#000">Lamp with</text>
<text transform="translate(1708.48,892.90) scale(0.8415,1)" font-size="24.71" font-weight="bold" fill="#000">AFCI</text>
<text transform="translate(1582.42,925.40) scale(0.9541,1)" font-size="24.71" font-weight="bold" fill="#000">Protection connected</text>
<text transform="translate(1583.71,957.60) scale(0.9502,1)" font-size="24.71" font-weight="bold" fill="#000">to switch</text>
<text transform="translate(1072.84,1013.30) scale(0.7648,1)" font-size="22.67" font-weight="bold" fill="#ed1c24" stroke="#ed1c24" stroke-width="0.8">L</text>
<text transform="translate(1068.09,1047.40) scale(1.0704,1)" font-size="23.84" font-weight="bold" fill="#000">N</text>
<text transform="translate(1072.88,1074.00) scale(0.7389,1)" font-size="22.67" font-weight="bold" fill="#22b14c" stroke="#22b14c" stroke-width="0.8">E</text>
<path d="M1092.3,1003 H1459.5 V1249 H1421" fill="none" stroke="#ed1c24" stroke-width="4" stroke-linejoin="miter" stroke-linecap="butt"/>
<path d="M1448.3,1315 H1488 V1153.8 H1690" fill="none" stroke="#ed1c24" stroke-width="4" stroke-linejoin="miter" stroke-linecap="butt"/>
<path d="M1449.4,1354.7 H1462.6 V1527.4 H1697" fill="none" stroke="#ed1c24" stroke-width="4" stroke-linejoin="miter" stroke-linecap="butt"/>
<path d="M1421,1401.7 H1462.6" fill="none" stroke="#ed1c24" stroke-width="4" stroke-linejoin="miter" stroke-linecap="butt"/>
<path d="M1092,1039.4 H1200.6 V1245.7 H1223" fill="none" stroke="#000" stroke-width="4" stroke-linejoin="miter" stroke-linecap="butt"/>
<path d="M1223,1399 H1185.4 V1562 H1697" fill="none" stroke="#000" stroke-width="4" stroke-linejoin="miter" stroke-linecap="butt"/>
<path d="M1741,1153.8 H1777.7 V1354.2 H1565.8 V1561" fill="none" stroke="#000" stroke-width="4" stroke-linejoin="miter" stroke-linecap="butt"/>
<circle cx="1565.8" cy="1560.8" r="6" fill="#000"/>
<path d="M1092,1068.4 H1144.5 V1596.2 H1697" fill="none" stroke="#22b14c" stroke-width="4" stroke-linejoin="miter" stroke-linecap="butt"/>
<circle cx="1144.5" cy="1474.4" r="6" fill="#22b14c"/>
<use href="#swGO" x="1237.5" y="1183.7"/>
<path d="M1409.0,1277.4 C1415.5,1294.7 1421.5,1314.7 1435.5,1314.7 L1449.5,1314.7" fill="none" stroke="#000" stroke-width="3.6" stroke-linecap="round"/>
<path d="M1409.0,1305.7 C1414.5,1320.7 1415.5,1338.7 1420.5,1346.7 C1424.5,1352.7 1431.5,1354.5 1438.5,1354.5 L1450.5,1354.5" fill="none" stroke="#000" stroke-width="3.6" stroke-linecap="round"/>
<path d="M1144.5,1474.4 H1282.4" fill="none" stroke="#22b14c" stroke-width="4" stroke-linejoin="miter" stroke-linecap="butt"/>
<text transform="translate(1174.72,1229.70) scale(1.0180,1)" font-size="18.02" font-weight="normal" fill="#000">©WWW.ETechnoG.COM</text>
<text transform="translate(1521.63,1220.90) scale(1.0072,1)" font-size="24.71" font-weight="bold" fill="#000">**If you not want to</text>
<text transform="translate(1520.11,1252.60) scale(0.9755,1)" font-size="24.71" font-weight="bold" fill="#000">protect the lamp then</text>
<text transform="translate(1520.78,1285.60) scale(0.9580,1)" font-size="24.71" font-weight="bold" fill="#000">connect it to the input</text>
<text transform="translate(1520.83,1318.60) scale(0.9975,1)" font-size="24.71" font-weight="bold" fill="#000">side of the Outlet**</text>
<text transform="translate(1650.03,1425.60) scale(1.0159,1)" font-size="23.26" font-weight="bold" fill="#000">Connect to other Outlets</text>
<text transform="translate(1650.07,1458.50) scale(1.0039,1)" font-size="23.26" font-weight="bold" fill="#000">is to be</text>
<text transform="translate(1737.08,1460.80) scale(0.8795,1)" font-size="23.69" font-weight="bold" fill="#000">AFCI</text>
<text transform="translate(1794.61,1458.50) scale(1.0370,1)" font-size="23.26" font-weight="bold" fill="#000">protected</text>
<text transform="translate(1710.24,1534.00) scale(0.7648,1)" font-size="22.67" font-weight="bold" fill="#ed1c24" stroke="#ed1c24" stroke-width="0.8">L</text>
<text transform="translate(1705.82,1569.30) scale(1.0561,1)" font-size="23.84" font-weight="bold" fill="#000">N</text>
<text transform="translate(1710.97,1599.20) scale(0.7468,1)" font-size="22.67" font-weight="bold" fill="#22b14c" stroke="#22b14c" stroke-width="0.8">E</text>
<polygon points="1144.5,953.5 1097.3,940.2 1097.3,945.7 1052,945.7 1052,961 1097.3,961 1097.3,967.2" fill="#000"/>
<polygon points="1802.5,1492 1755.8,1478.8 1755.8,1485.6 1710.1,1485.6 1710.1,1499.3 1755.8,1499.3 1755.8,1506" fill="#000"/>
<path d="M1515.3,1319.5 L1480.5,1337.5 M1486.9,1325.2 L1480.5,1337.5 L1497.1,1338.8" fill="none" stroke="#000" stroke-width="2.2" stroke-linecap="round" stroke-linejoin="round"/>
<path d="M1601.4,1324.6 L1622.5,1346.8 M1617.2,1330.4 L1622.5,1346.8 L1605.4,1341.5" fill="none" stroke="#000" stroke-width="2.2" stroke-linecap="round" stroke-linejoin="round"/>
</svg></body></html>
